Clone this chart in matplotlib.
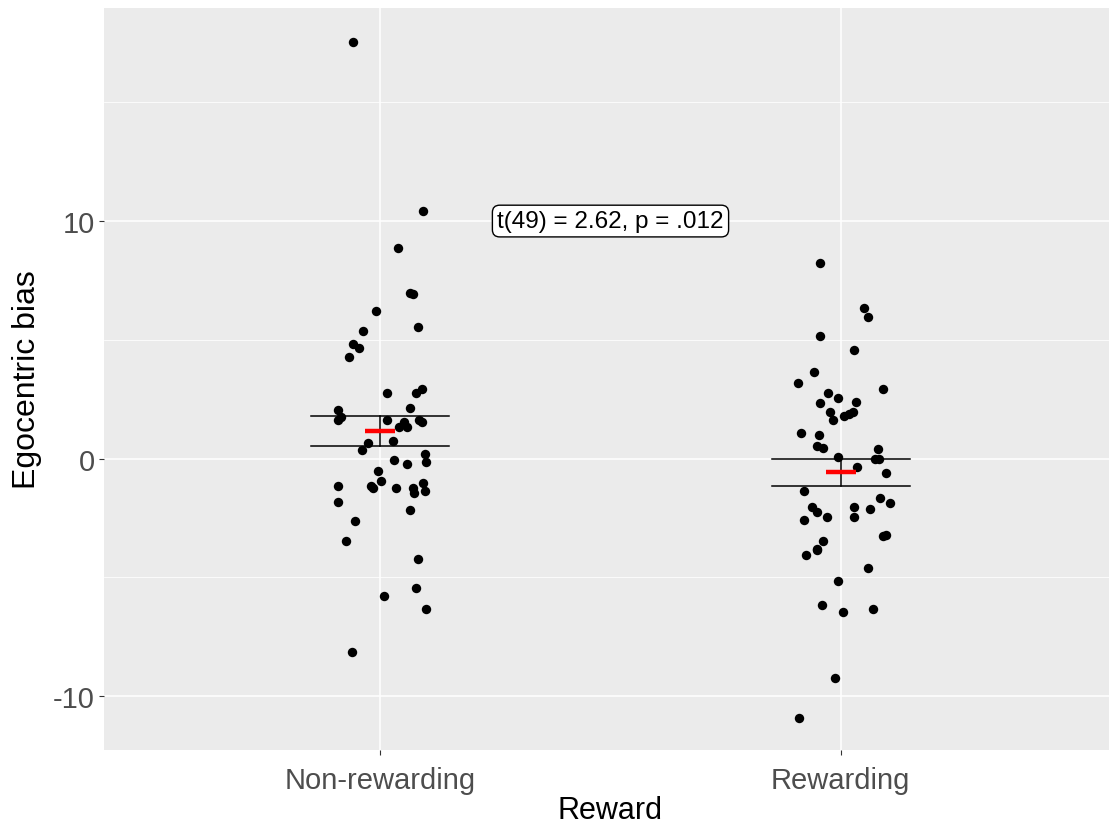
import numpy as np
import matplotlib
matplotlib.use("Agg")
import matplotlib.pyplot as plt
from matplotlib.ticker import MultipleLocator

categories = ["Non-rewarding", "Rewarding"]

nonrew_y = [17.52, 10.44, 8.88, 6.99, 6.91, 6.23, 5.56, 5.35, 4.84, 4.67,
            4.29, 2.78, 2.95, 2.74, 2.06, 2.11, 1.64, 1.73, 1.64, 1.64,
            1.56, 1.35, 1.52, 1.35, 0.67, 0.76, 0.34, 0.21, -0.13, -0.04,
            -0.21, -0.51, -0.93, -1.14, -1.26, -1.22, -1.14, -1.26, -1.43, -1.01,
            -1.35, -1.81, -2.15, -2.61, -3.45, -4.21, -5.43, -5.77, -6.32, -8.13]
nonrew_jit = [-0.059, 0.093, 0.039, 0.065, 0.072, -0.009, 0.083, -0.037, -0.059, -0.046,
              -0.067, 0.015, 0.091, 0.078, -0.091, 0.065, -0.091, -0.085, 0.015, 0.085,
              0.091, 0.041, 0.052, 0.057, -0.026, 0.028, -0.039, 0.098, 0.100, 0.030,
              0.059, -0.004, 0.002, -0.020, -0.015, 0.035, -0.091, 0.070, 0.074, 0.093,
              0.098, -0.091, 0.065, -0.054, -0.074, 0.083, 0.078, 0.009, 0.100, -0.061]

rew_y = [8.25, 6.32, 5.98, 5.14, 4.55, 3.66, 3.20, 2.91, 2.78, 2.57,
         2.32, 2.40, 1.98, 1.64, 1.81, 1.89, 1.98, 1.09, 1.01, 0.55,
         0.46, 0.42, 0.08, 0.00, 0.00, -0.34, -0.59, -1.35, -1.68, -1.89,
         -2.06, -2.27, -2.48, -2.57, -2.02, -2.11, -2.44, -3.24, -3.20, -3.49,
         -3.79, -3.87, -4.08, -4.59, -5.14, -6.15, -6.44, -6.32, -9.22, -10.91]
rew_jit = [-0.046, 0.050, 0.059, -0.046, 0.028, -0.059, -0.093, 0.091, -0.028, -0.007,
           -0.046, 0.033, -0.024, -0.017, 0.007, 0.017, 0.026, -0.087, -0.048, -0.052,
           -0.039, 0.080, -0.007, 0.074, 0.083, 0.035, 0.098, -0.080, 0.085, 0.107,
           -0.063, -0.052, -0.030, -0.080, 0.028, 0.063, 0.028, 0.091, 0.098, -0.039,
           -0.052, -0.052, -0.076, 0.059, -0.007, -0.041, 0.004, 0.070, -0.013, -0.091]

annot_text = "t(49) = 2.62, p = .012"
annot_pos = (1.5, 10.0)

font = ["Liberation Sans", "DejaVu Sans"]
plt.rcParams["font.family"] = font
plt.rcParams["axes.unicode_minus"] = False

W, H = 1109, 828
fig = plt.figure(figsize=(W / 100, H / 100), dpi=100)
left, right_px, top, bottom = 104, 1109 + 8, 9, 751
ax = fig.add_axes([left / W, (H - bottom) / H, (right_px - left) / W, (bottom - top) / H])
ax.set_facecolor("#EBEBEB")
for s in ax.spines.values():
    s.set_visible(False)

ax.set_xlim(0.4, 2.6)
ax.set_ylim(-12.27, 18.97)
ax.yaxis.set_major_locator(MultipleLocator(10))
ax.yaxis.set_minor_locator(MultipleLocator(5))
ax.set_xticks([1, 2])
ax.set_xticklabels(categories)
ax.grid(which="major", color="white", linewidth=1.1)
ax.grid(which="minor", axis="y", color="white", linewidth=0.55)
ax.set_axisbelow(True)
ax.tick_params(which="major", length=3.5, width=0.8, color="#333333",
               labelsize=21, labelcolor="#4D4D4D", pad=3)
ax.tick_params(axis="x", which="major", pad=8)
ax.tick_params(which="minor", length=0)

groups = [(1, nonrew_y, nonrew_jit), (2, rew_y, rew_jit)]
for pos, ys, jit in groups:
    ys = np.asarray(ys)
    xs = pos + np.asarray(jit)
    ax.scatter(xs, ys, s=46, color="black", zorder=3, linewidths=0)
    m = ys.mean()
    se = ys.std(ddof=1) / np.sqrt(len(ys))
    ax.plot([pos - 0.15, pos + 0.15], [m + se, m + se], color="black", lw=1.1, zorder=4)
    ax.plot([pos - 0.15, pos + 0.15], [m - se, m - se], color="black", lw=1.1, zorder=4)
    ax.plot([pos, pos], [m - se, m + se], color="black", lw=1.1, zorder=4)
    ax.plot([pos - 0.033, pos + 0.033], [m, m], color="red", lw=3.2, zorder=5,
            solid_capstyle="butt")

ax.text(annot_pos[0], annot_pos[1], annot_text, ha="center", va="center",
        fontsize=17.5, color="black", zorder=6,
        bbox=dict(boxstyle="round,pad=0.2,rounding_size=0.3", fc="white", ec="black", lw=1.0))

ax.set_xlabel("Reward", fontsize=22, color="black", labelpad=1)
ax.set_ylabel("Egocentric bias", fontsize=23, color="black", labelpad=8)

fig.savefig("out.png", dpi=100)
